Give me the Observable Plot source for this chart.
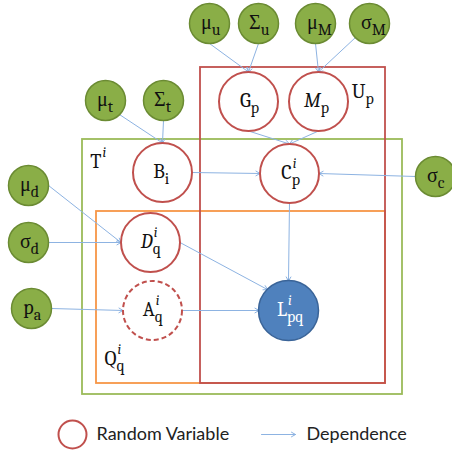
<!DOCTYPE html>
<html><head><meta charset="utf-8">
<script src="https://cdn.jsdelivr.net/npm/d3@7"></script>
<script src="https://cdn.jsdelivr.net/npm/@observablehq/plot@0.6"></script>
<style>body{margin:0;background:#fff;} svg{display:block;}</style>
</head><body><div id="chart"></div>
<script>
// ---- hyperparameter nodes (green) ----
const hyperBase = ["μ","Σ","μ","σ","μ","Σ","μ","σ","p","σ"];
const hyperSub  = ["u","u","M","M","t","t","d","d","a","c"];
const hyperX    = [209,258,315,369,105,163,28,28,31,435];
const hyperY    = [23,23,23,23,100,100,185,242,308,176];

// ---- random-variable nodes ----
const varBase   = ["G","M","B","C","D","A","L"];
const varSub    = ["p","p","i","p","q","q","pq"];
const varSup    = ["","","","i","i","i","i"];
const varItalic = [false,true,false,false,true,false,false];
const varKind   = ["latent","latent","latent","latent","latent","partial","observed"];
const varX      = [248,318,162,289,150,152,288];
const varY      = [101,101,172,173,242,310,310];

// ---- plates ----
const plateName = ["T","Q","U"];
const plateX1   = [82,96,200];
const plateX2   = [402,385,385];
const plateY1   = [139,211,67];
const plateY2   = [394,383,383];
const plateBase = ["T","Q","U"];
const plateSub  = ["","q","p"];
const plateSup  = ["i","i",""];
const plateLabX = [101,116,365];
const plateLabY = [162,359,92];

// ---- dependences (from id, side, to id, side) ----
const edgeFrom     = ["μu","Σu","μM","σM","μt","Σt","Gp","Mp","Bi","σc","μd","σd","Dq","pa","Aq","Cp"];
const edgeFromSide = ["s","s","s","sw","se","s","s","s","e","w","e","e","e","e","e","s"];
const edgeTo       = ["Gp","Gp","Mp","Mp","Bi","Bi","Cp","Cp","Cp","Cp","Dq","Dq","Lpq","Aq","Lpq","Lpq"];
const edgeToSide   = ["n","n","n","n","n","n","n","n","w","e","w","w","nw","w","w","n"];

// ---- legend ----
const legendLabels = ["Random Variable","Dependence"];
const legendX = [72, 261];
const legendY = 434;

// build tables
const greenR = 20, redR = 29.5;
const hyper = hyperBase.map((b,i)=>({id:b+hyperSub[i], base:b, sub:hyperSub[i], sup:"", x:hyperX[i], y:hyperY[i], r:greenR, italic:false}));
const vars = varBase.map((b,i)=>({id:b+varSub[i], base:b, sub:varSub[i], sup:varSup[i], italic:varItalic[i], kind:varKind[i], x:varX[i], y:varY[i], r:redR}));
const nodeMap = new Map([...hyper, ...vars].map(d=>[d.id,d]));
const dirs = {n:[0,-1], s:[0,1], e:[1,0], w:[-1,0], se:[Math.SQRT1_2,Math.SQRT1_2], sw:[-Math.SQRT1_2,Math.SQRT1_2], nw:[-Math.SQRT1_2,-Math.SQRT1_2]};
const edges = edgeFrom.map((f,i)=>{
  const a = nodeMap.get(f), b = nodeMap.get(edgeTo[i]);
  const da = dirs[edgeFromSide[i]], db = dirs[edgeToSide[i]];
  return {x1:a.x+a.r*da[0], y1:a.y+a.r*da[1], x2:b.x+b.r*db[0], y2:b.y+b.r*db[1]};
});

// label split positions (base ends, sub/sup start)
const baseW = 12, subW = 7.5;
function split(d){ const n = Math.max(d.sub.length, d.sup.length); return d.x + (d.base.length*baseW - n*subW)/2; }
const labels = [...hyper, ...vars].map(d=>({...d, sx: split(d), white: d.kind==="observed"}));
const plates = plateName.map((p,i)=>({name:p, x1:plateX1[i], x2:plateX2[i], y1:plateY1[i], y2:plateY2[i], base:plateBase[i], sub:plateSub[i], sup:plateSup[i], sx:plateLabX[i], y:plateLabY[i]}));

const serif = "Caladea, Cambria, 'Liberation Serif', serif";
const sans = "Lato, 'Open Sans', sans-serif";
const blue = "#8db3e2";
const txt = "#111";

function labelMarks(data){
  return [
    Plot.text(data.filter(d=>!d.italic), {x:"sx", y:"y", text:"base", textAnchor:"end", fontFamily:serif, fontSize:20, fill:d=>d.white?"#fff":txt, dy:-1}),
    Plot.text(data.filter(d=>d.italic), {x:"sx", y:"y", text:"base", textAnchor:"end", fontFamily:serif, fontSize:20, fontStyle:"italic", fill:txt, dy:-1}),
    Plot.text(data.filter(d=>d.sub), {x:"sx", y:"y", text:"sub", textAnchor:"start", fontFamily:serif, fontSize:16, fill:d=>d.white?"#fff":txt, dy:6}),
    Plot.text(data.filter(d=>d.sup), {x:"sx", y:"y", dx:1, text:"sup", textAnchor:"start", fontFamily:serif, fontSize:14, fontStyle:"italic", fill:d=>d.white?"#fff":txt, dy:-10})
  ];
}

const chart = Plot.plot({
  width:452, height:452, margin:0,
  x:{domain:[0,452], range:[0,452], axis:null},
  y:{domain:[0,452], range:[0,452], axis:null},
  marks:[
    Plot.rect(plates.filter(d=>d.name==="T"), {x1:"x1",x2:"x2",y1:"y1",y2:"y2", fill:"none", stroke:"#9bbb59", strokeWidth:1.8}),
    Plot.rect(plates.filter(d=>d.name==="Q"), {x1:"x1",x2:"x2",y1:"y1",y2:"y2", fill:"none", stroke:"#f79646", strokeWidth:1.8}),
    Plot.rect(plates.filter(d=>d.name==="U"), {x1:"x1",x2:"x2",y1:"y1",y2:"y2", fill:"none", stroke:"#c0504d", strokeWidth:1.8}),
    Plot.arrow(edges, {x1:"x1",y1:"y1",x2:"x2",y2:"y2", stroke:blue, strokeWidth:1, headLength:7, bend:0}),
    Plot.dot(hyper, {x:"x", y:"y", r:greenR, fill:"#8aae47", stroke:"#6b8b33", strokeWidth:1.5}),
    Plot.dot(vars.filter(d=>d.kind==="latent"), {x:"x", y:"y", r:redR, fill:"#fff", stroke:"#c0504d", strokeWidth:2}),
    Plot.dot(vars.filter(d=>d.kind==="partial"), {x:"x", y:"y", r:redR, fill:"#fff", stroke:"#c0504d", strokeWidth:2, strokeDasharray:"5,3"}),
    Plot.dot(vars.filter(d=>d.kind==="observed"), {x:"x", y:"y", r:30, fill:"#4f81bd", stroke:"#3a6498", strokeWidth:1.5}),
    ...labelMarks(labels),
    ...labelMarks(plates),
    // legend
    Plot.dot([legendLabels[0]], {x:()=>legendX[0], y:()=>legendY, r:14, fill:"#fff", stroke:"#c0504d", strokeWidth:2}),
    Plot.arrow([legendLabels[1]], {x1:()=>legendX[1], x2:()=>legendX[1]+34, y1:()=>legendY, y2:()=>legendY, stroke:blue, strokeWidth:1, headLength:7}),
    Plot.text(legendLabels, {x:(d,i)=>i===0?legendX[0]+24:legendX[1]+45, y:()=>legendY, text:d=>d, textAnchor:"start", fontFamily:sans, fontSize:18, fill:"#222"})
  ]
});
document.getElementById("chart").appendChild(chart);
</script>
</body></html>
